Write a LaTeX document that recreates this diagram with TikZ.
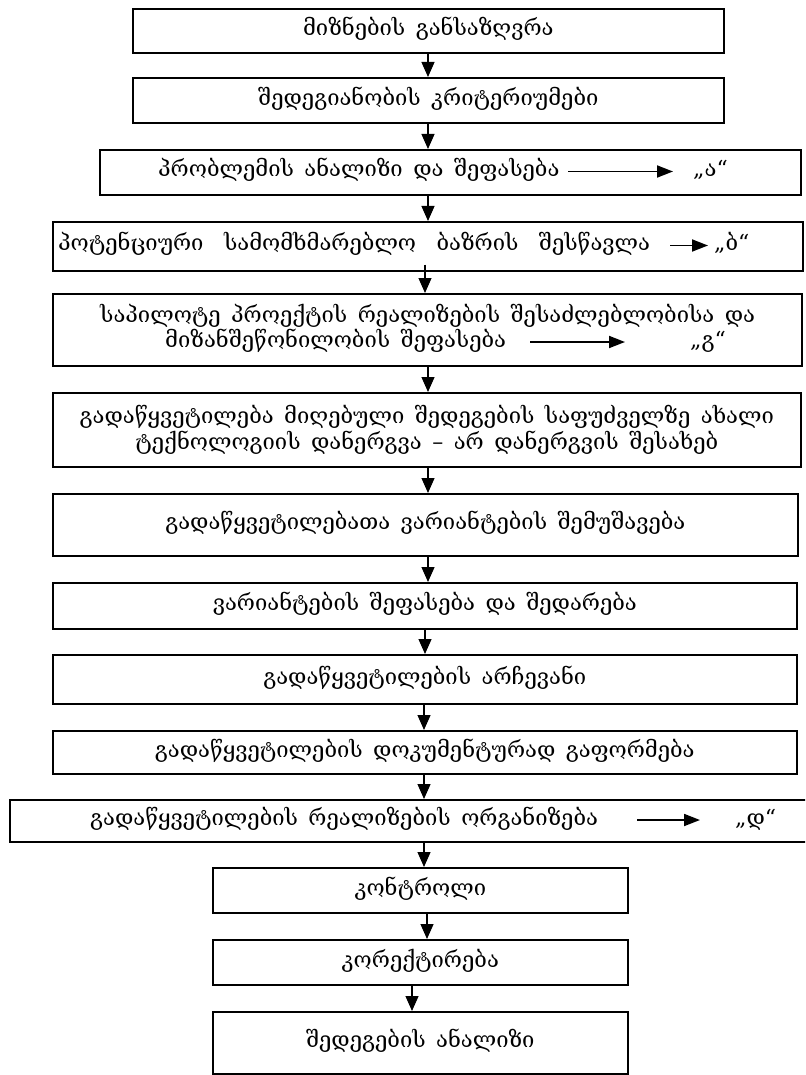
\documentclass[tikz,border=0pt]{standalone}
\usepackage{fontspec}
\setmainfont{DejaVu Serif}[WordSpace=1.5]
\usetikzlibrary{arrows.meta}
\begin{document}
\begin{tikzpicture}[x=1pt,y=-1pt,
  box/.style={draw, line width=1.6pt, inner sep=0pt, anchor=north west},
  txt/.style={inner sep=0pt, font=\fontsize{22}{26}\selectfont, text height=15pt, text depth=5pt},
  lines/.style={inner sep=0pt, font=\fontsize{22}{26}\selectfont, align=center},
  flow/.style={line width=1.2pt, -{Triangle[length=15pt,width=13pt]}},
  side/.style={line width=1.8pt, -{Triangle[length=16pt,width=12pt]}}]
\useasboundingbox (0,0) rectangle (805,1075);
\clip (0,0) rectangle (805,1075);
% boxes
\node[box, minimum width=591pt, minimum height=44pt] (b1) at (132,8) {};
\node[box, minimum width=591pt, minimum height=45pt] (b2) at (132,77) {};
\node[box, minimum width=701pt, minimum height=45pt] (b3) at (99,149) {};
\node[box, minimum width=750pt, minimum height=49pt] (b4) at (52,221) {};
\node[box, minimum width=749pt, minimum height=72pt] (b5) at (52,293) {};
\node[box, minimum width=748pt, minimum height=74pt] (b6) at (52,392) {};
\node[box, minimum width=745pt, minimum height=62pt] (b7) at (52,493) {};
\node[box, minimum width=744pt, minimum height=46pt] (b8) at (52,582) {};
\node[box, minimum width=744pt, minimum height=49pt] (b9) at (52,654) {};
\node[box, minimum width=744pt, minimum height=43pt] (b10) at (52,730) {};
\node[box, minimum width=810pt, minimum height=42pt] (b11) at (9,799) {};
\node[box, minimum width=415pt, minimum height=45pt] (b12) at (212,867) {};
\node[box, minimum width=415pt, minimum height=45pt] (b13) at (212,939) {};
\node[box, minimum width=415pt, minimum height=62pt] (b14) at (212,1011) {};
% texts
\node[txt] (t1) at (b1.center) {მიზნების განსაზღვრა};
\node[txt] (t2) at (b2.center) {შედეგიანობის კრიტერიუმები};
\node[txt, anchor=west] (t3) at (158,171.5) {პრობლემის ანალიზი და შეფასება};
\node[txt, anchor=west] (l3) at (693,171.5) {„ა“};
\node[txt, anchor=west] (t4) at (58,245.5) {პოტენციური\hspace{10pt} სამომხმარებლო\hspace{10pt} ბაზრის\hspace{10pt} შესწავლა};
\node[txt, anchor=west] (l4) at (714,245.5) {„ბ“};
\node[txt, anchor=west] (t5a) at (100,317) {საპილოტე პროექტის რეალიზების შესაძლებლობისა და};
\node[txt, anchor=west] (t5b) at (165,342) {მიზანშეწონილობის შეფასება};
\node[txt, anchor=west] (l5) at (690,342) {„გ“};
\node[lines] (t6) at (b6.center) {გადაწყვეტილება მიღებული შედეგების საფუძველზე ახალი\\ტექნოლოგიის დანერგვა – არ დანერგვის შესახებ};
\node[txt] (t7) at (b7.center) {გადაწყვეტილებათა ვარიანტების შემუშავება};
\node[txt] (t8) at (b8.center) {ვარიანტების შეფასება და შედარება};
\node[txt] (t9) at (b9.center) {გადაწყვეტილების არჩევანი};
\node[txt] (t10) at (b10.center) {გადაწყვეტილების დოკუმენტურად გაფორმება};
\node[txt, anchor=west] (t11) at (90,820) {გადაწყვეტილების რეალიზების ორგანიზება};
\node[txt, anchor=west] (l11) at (735,820) {„დ“};
\node[txt] (t12) at (b12.center) {კონტროლი};
\node[txt] (t13) at (b13.center) {კორექტირება};
\node[txt] (t14) at (b14.center) {შედეგების ანალიზი};
% side arrows
\coordinate (a3) at (568,171.5);
\coordinate (a4) at (670,245.5);
\coordinate (a5) at (530,342);
\coordinate (a11) at (637,820);
\draw[side] (a3) -- ([xshift=-20pt]l3.west);
\draw[side] (a4) -- ([xshift=-6pt]l4.west);
\draw[side] (a5) -- ([xshift=-65pt]l5.west);
\draw[side] (a11) -- ([xshift=-35pt]l11.west);
% flow arrows
\coordinate (ca) at (428,0);
\coordinate (cb) at (425,0);
\coordinate (cc) at (424,0);
\coordinate (cd) at (427,0);
\coordinate (ce) at (412,0);
\draw[flow] (b1.south -| ca) -- (b2.north -| ca);
\draw[flow] (b2.south -| ca) -- (b3.north -| ca);
\draw[flow] (b3.south -| ca) -- (b4.north -| ca);
\path (b4.south -| cb) ++(0,-7) coordinate (s45);
\draw[flow] (s45) -- (b5.north -| cb);
\draw[flow] (b5.south -| ca) -- (b6.north -| ca);
\draw[flow] (b6.south -| ca) -- (b7.north -| ca);
\draw[flow] (b7.south -| ca) -- (b8.north -| ca);
\draw[flow] (b8.south -| cb) -- (b9.north -| cb);
\draw[flow] (b9.south -| cc) -- (b10.north -| cc);
\draw[flow] (b10.south -| cc) -- (b11.north -| cc);
\draw[flow] (b11.south -| cc) -- (b12.north -| cc);
\draw[flow] (b12.south -| cd) -- (b13.north -| cd);
\draw[flow] (b13.south -| ce) -- (b14.north -| ce);
\end{tikzpicture}
\end{document}
